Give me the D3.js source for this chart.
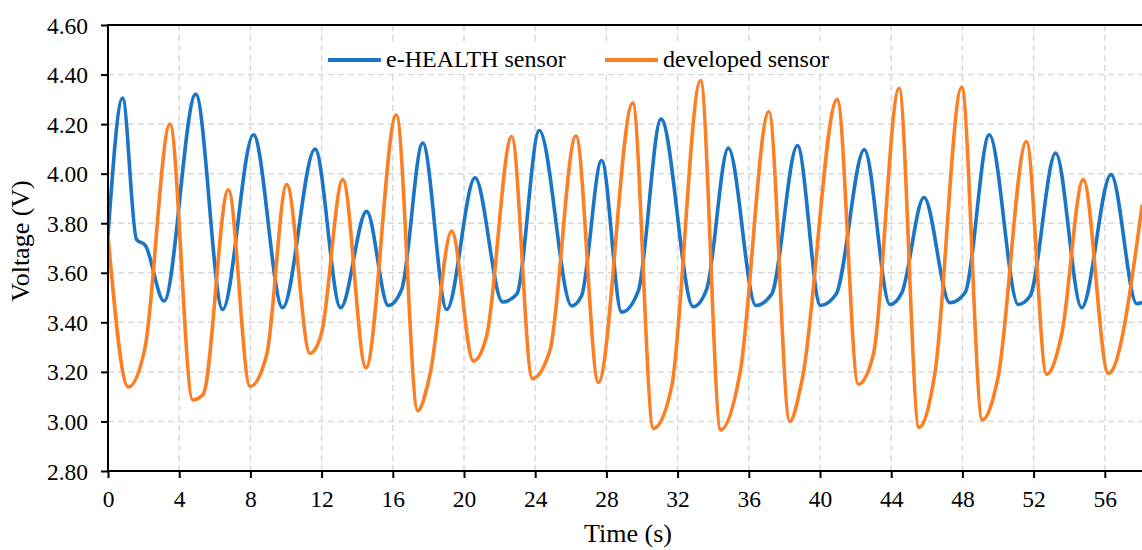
<!DOCTYPE html>
<html>
<head>
<meta charset="utf-8">
<script src="https://cdn.jsdelivr.net/npm/d3@7"></script>
<style>
  html, body { margin: 0; padding: 0; background: #fff; }
  svg { display: block; font-family: 'Liberation Serif', 'Times New Roman', serif; }
</style>
</head>
<body>
<svg id="chart" width="1142" height="550"></svg>
<script>
const COLORS = {
  eHealth: '#1b75c7',
  developed: '#fd7f24',
  grid: '#d9d9d9',
}

// [time (s), voltage (V)] at peaks, troughs and kinks
const E_HEALTH = [
  [0, 3.75], [0.82, 4.305], [1.6, 3.735], [2.1, 3.71], [3.15, 3.486],
  [4.93, 4.321], [6.44, 3.452], [8.17, 4.157], [9.81, 3.459], [11.63, 4.099],
  [13.07, 3.459], [14.53, 3.848], [15.75, 3.468], [16.5, 3.533], [17.68, 4.124],
  [19.03, 3.452], [20.62, 3.983], [22.17, 3.482], [22.96, 3.513], [24.23, 4.174],
  [26.05, 3.466], [26.6, 3.506], [27.73, 4.053], [28.86, 3.441], [29.79, 3.526],
  [31.07, 4.22], [32.88, 3.463], [33.63, 3.533], [34.85, 4.103], [36.4, 3.468],
  [37.28, 3.513], [38.73, 4.113], [40.03, 3.468], [40.9, 3.513], [42.49, 4.097],
  [43.93, 3.472], [44.6, 3.52], [45.84, 3.904], [47.3, 3.479], [48.15, 3.52],
  [49.51, 4.157], [51.14, 3.472], [51.8, 3.506], [53.24, 4.083], [54.7, 3.459],
  [56.35, 3.996], [57.8, 3.475], [58.1, 3.48],
]
const DEVELOPED = [
  [0, 3.75], [1.14, 3.139], [2.08, 3.298], [3.48, 4.2], [4.76, 3.087],
  [5.35, 3.11], [6.76, 3.935], [7.98, 3.141], [8.92, 3.271], [10.04, 3.956],
  [11.35, 3.275], [12.0, 3.358], [13.19, 3.976], [14.49, 3.217], [16.2, 4.238],
  [17.4, 3.043], [18.09, 3.19], [19.31, 3.768], [20.52, 3.244], [21.27, 3.345],
  [22.68, 4.15], [23.84, 3.173], [24.83, 3.288], [26.29, 4.153], [27.55, 3.157],
  [29.48, 4.285], [30.64, 2.972], [31.67, 3.143], [33.29, 4.376], [34.42, 2.966],
  [35.51, 3.197], [37.13, 4.251], [38.3, 3.0], [39.0, 3.17], [40.97, 4.3],
  [42.15, 3.15], [43.0, 3.271], [44.44, 4.345], [45.56, 2.976], [46.46, 3.197],
  [47.96, 4.349], [49.12, 3.006], [50.0, 3.177], [51.6, 4.13], [52.73, 3.19],
  [53.58, 3.352], [54.79, 3.976], [56.2, 3.194], [58.1, 3.875],
]
const SERIES = [
  { name: 'e-HEALTH sensor', color: COLORS.eHealth, values: E_HEALTH },
  { name: 'developed sensor', color: COLORS.developed, values: DEVELOPED },
]
const X_TICKS = d3.range(0, 57, 4)
const Y_TICKS = [2.8, 3.0, 3.2, 3.4, 3.6, 3.8, 4.0, 4.2, 4.4, 4.6]

const M = { left: 108, top: 25, bottom: 471 }
const X = d3.scaleLinear().domain([0, 58]).range([M.left, M.left + 58 * 17.8])
const Y = d3.scaleLinear().domain([2.8, 4.6]).range([M.bottom, M.top])
const RIGHT = 1142

const svg = d3.select('#chart')

svg.append('clipPath').attr('id', 'plot')
  .append('rect')
  .attr('x', M.left).attr('y', M.top - 5)
  .attr('width', RIGHT - M.left).attr('height', M.bottom - M.top + 5)

// grid
const grid = svg.append('g')
  .attr('stroke', COLORS.grid)
  .attr('stroke-width', 1.5)
  .attr('stroke-dasharray', '6,4')
grid.selectAll('.gx').data(X_TICKS.slice(1)).join('line')
  .attr('x1', d => X(d)).attr('x2', d => X(d))
  .attr('y1', M.top).attr('y2', M.bottom)
grid.selectAll('.gy').data(Y_TICKS.slice(1, -1)).join('line')
  .attr('x1', M.left).attr('x2', RIGHT)
  .attr('y1', d => Y(d)).attr('y2', d => Y(d))

// series
const LINE = d3.line()
  .x(d => X(d[0]))
  .y(d => Y(d[1]))
  .curve(d3.curveMonotoneX)

svg.append('g').attr('clip-path', 'url(#plot)')
  .selectAll('path').data(SERIES).join('path')
  .attr('d', d => LINE(d.values))
  .attr('fill', 'none')
  .attr('stroke', d => d.color)
  .attr('stroke-width', 3.6)
  .attr('stroke-linejoin', 'round')

// axes
const xAxis = svg.append('g')
  .attr('transform', `translate(0,${M.bottom})`)
  .call(d3.axisBottom(X).tickValues(X_TICKS).tickSize(7).tickPadding(12).tickFormat(d3.format('d')))
const yAxis = svg.append('g')
  .attr('transform', `translate(${M.left},0)`)
  .call(d3.axisLeft(Y).tickValues(Y_TICKS).tickSize(7).tickPadding(13).tickFormat(d3.format('.2f')))
for (const ax of [xAxis, yAxis]) {
  ax.select('.domain').remove()
  ax.selectAll('line').attr('stroke', '#000').attr('stroke-width', 2)
  ax.selectAll('text')
    .attr('fill', '#000')
    .style('font-family', "'Liberation Serif', serif")
    .style('font-size', '23.5px')
}
yAxis.selectAll('text').attr('dy', '0.34em')

// frame: left, bottom, top
svg.append('path')
  .attr('d', `M${RIGHT},${M.top}H${M.left}V${M.bottom}H${RIGHT}`)
  .attr('fill', 'none')
  .attr('stroke', '#000')
  .attr('stroke-width', 2)

// axis titles
svg.append('text')
  .attr('x', 628).attr('y', 542)
  .attr('text-anchor', 'middle')
  .style('font-size', '26px')
  .text('Time (s)')
svg.append('text')
  .attr('transform', 'translate(29,241) rotate(-90)')
  .attr('text-anchor', 'middle')
  .style('font-size', '26px')
  .text('Voltage (V)')

// legend
const legend = svg.append('g')
legend.append('rect')
  .attr('x', 324).attr('y', 44).attr('width', 512).attr('height', 30)
  .attr('fill', '#fff')
const ITEMS = [{ x: 328 }, { x: 605 }]
ITEMS.forEach((it, i) => {
  legend.append('line')
    .attr('x1', it.x).attr('x2', it.x + 53)
    .attr('y1', 60).attr('y2', 60)
    .attr('stroke', SERIES[i].color)
    .attr('stroke-width', 4)
  legend.append('text')
    .attr('x', it.x + 58).attr('y', 67)
    .style('font-size', '24px')
    .text(SERIES[i].name)
})
</script>
</body>
</html>
